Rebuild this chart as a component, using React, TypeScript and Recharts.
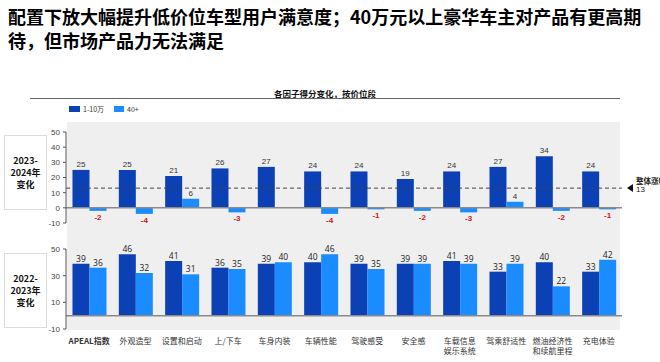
import { BarChart, Bar, XAxis, YAxis, ReferenceLine, LabelList } from 'recharts';

const categories = [
  'APEAL指数',
  '外观造型',
  '设置和启动',
  '上/下车',
  '车身内装',
  '车辆性能',
  '驾驶感受',
  '安全感',
  '车载信息\n娱乐系统',
  '驾乘舒适性',
  '燃油经济性\n和续航里程',
  '充电体验',
];

// 2023-2024 change
const change2324Low = [25, 25, 21, 26, 27, 24, 24, 19, 24, 27, 34, 24];
const change2324High = [-2, -4, 6, -3, 0, -4, -1, -2, -3, 4, -2, -1];
const overallRise = 13;

// 2022-2023 change
const change2223Low = [39, 46, 41, 36, 39, 40, 39, 39, 41, 33, 40, 33];
const change2223High = [36, 32, 31, 35, 40, 46, 35, 39, 39, 39, 22, 42];

const yTicks = [-10, 0, 10, 20, 30, 40, 50];

const DARK = '#0B41B5';
const LIGHT = '#1A8CFF';
const CHART_FONT = '"Liberation Sans", Arial, sans-serif';
const CJK_FONT = '"Noto Sans CJK SC", "Noto Sans", sans-serif';

const topData = categories.map((name, i) => ({
  name,
  low: change2324Low[i],
  high: change2324High[i],
}));

const bottomData = categories.map((name, i) => ({
  name,
  low: change2223Low[i],
  high: change2223High[i],
}));

function TopLabel(props: any) {
  const { x, y, width, height, value } = props;
  const cx = x + width / 2;
  const top = Math.min(y, y + height);
  const bottom = Math.max(y, y + height);
  if (value <= 0) {
    return (
      <text
        x={cx}
        y={bottom + 9}
        textAnchor="middle"
        fontSize={8}
        fontWeight={700}
        fill="#D0161B"
        fontFamily={CHART_FONT}
      >
        {value}
      </text>
    );
  }
  return (
    <text x={cx} y={top - 3} textAnchor="middle" fontSize={8} fill="#333" fontFamily={CHART_FONT}>
      {value}
    </text>
  );
}

function BottomLabel(props: any) {
  const { x, y, width, height, value } = props;
  const top = Math.min(y, y + height);
  return (
    <text
      x={x + width / 2}
      y={top - 2}
      textAnchor="middle"
      fontSize={8.5}
      fill="#222"
      fontFamily='"Open Sans", sans-serif'
    >
      {value}
    </text>
  );
}

function CategoryTick(props: any) {
  const { x, y, payload, index } = props;
  const lines = String(payload.value).split('\n');
  return (
    <text
      x={x}
      y={y}
      textAnchor="middle"
      fontSize={8}
      fill="#333"
      fontWeight={index === 0 ? 700 : 400}
      fontFamily={CJK_FONT}
    >
      {lines.map((line, i) => (
        <tspan key={i} x={x} dy={i === 0 ? 7 : 10}>
          {line}
        </tspan>
      ))}
    </text>
  );
}

function RiseMarker(props: any) {
  const { viewBox } = props;
  const ty = viewBox.y;
  const tx = viewBox.x + viewBox.width + 5;
  return (
    <g>
      <polygon points={`${tx},${ty} ${tx + 6},${ty - 4} ${tx + 6},${ty + 4}`} fill="#111" />
      <text x={tx + 9} y={ty - 4} fontSize={7.5} fontWeight={700} fill="#222" fontFamily={CJK_FONT}>
        整体涨幅
      </text>
      <text x={tx + 9} y={ty + 4} fontSize={8} fill="#222" fontFamily={CHART_FONT}>
        {overallRise}
      </text>
    </g>
  );
}

const yAxisProps = {
  type: 'number' as const,
  domain: [-10, 50],
  ticks: yTicks,
  width: 50,
  tickSize: 3,
  tickMargin: 3,
  axisLine: { stroke: '#555' },
  tickLine: { stroke: '#555' },
  tick: { fontSize: 8, fill: '#444', fontFamily: CHART_FONT },
};

function SideBox({ top, lines }: { top: number; lines: string[] }) {
  return (
    <div
      style={{
        position: 'absolute',
        left: 4,
        top,
        width: 43,
        height: 75,
        boxSizing: 'border-box',
        border: '1px solid #dcdcdc',
        background: '#fff',
        display: 'flex',
        flexDirection: 'column',
        alignItems: 'center',
        justifyContent: 'center',
        fontFamily: CJK_FONT,
        fontWeight: 700,
        fontSize: 9,
        lineHeight: '12px',
        color: '#111',
      }}
    >
      {lines.map((l) => (
        <div key={l}>{l}</div>
      ))}
    </div>
  );
}

export default function App() {
  return (
    <div
      style={{
        position: 'fixed',
        left: 0,
        top: 0,
        width: 660,
        height: 362,
        background: '#fff',
        overflow: 'hidden',
      }}
    >
      <div
        style={{
          position: 'absolute',
          left: 8,
          top: 4,
          width: 650,
          fontFamily: CJK_FONT,
          fontWeight: 700,
          fontSize: 18,
          lineHeight: '24px',
          color: '#000',
        }}
      >
        配置下放大幅提升低价位车型用户满意度；40万元以上豪华车主对产品有更高期
        <br />
        待，但市场产品力无法满足
      </div>

      <div
        style={{
          position: 'absolute',
          left: 0,
          width: 660,
          top: 87,
          textAlign: 'center',
          fontFamily: CJK_FONT,
          fontWeight: 700,
          fontSize: 8.5,
          color: '#111',
        }}
      >
        <span style={{ position: 'relative', left: -5 }}>各因子得分变化，按价位段</span>
      </div>
      <div
        style={{ position: 'absolute', left: 30, top: 98, width: 590, height: 1, background: '#666' }}
      />

      {/* legend */}
      <div
        style={{
          position: 'absolute',
          left: 69,
          top: 104,
          display: 'flex',
          alignItems: 'center',
          fontFamily: CJK_FONT,
          fontSize: 7,
          color: '#333',
        }}
      >
        <div style={{ width: 11, height: 6, background: DARK, marginRight: 3 }} />
        <span style={{ marginRight: 10 }}>1-10万</span>
        <div style={{ width: 10, height: 6, background: LIGHT, marginRight: 3 }} />
        <span>40+</span>
      </div>

      {/* grey panel */}
      <div
        style={{ position: 'absolute', left: 67, top: 122, width: 553, height: 208, background: '#efefef' }}
      />

      <SideBox top={135} lines={['2023-', '2024年', '变化']} />
      <SideBox top={253} lines={['2022-', '2023年', '变化']} />

      <div style={{ position: 'absolute', left: 0, top: 122 }}>
        <BarChart
          width={660}
          height={110}
          data={topData}
          margin={{ top: 10, right: 38, bottom: 9, left: 16 }}
          barCategoryGap="14%"
          barGap={0}
        >
          <XAxis dataKey="name" hide />
          <YAxis {...yAxisProps} />
          <ReferenceLine y={0} stroke="#8a8a8a" strokeWidth={1.5} />
          <ReferenceLine
            y={overallRise}
            stroke="#444"
            strokeDasharray="4 3"
            strokeWidth={1}
            label={<RiseMarker />}
          />
          <Bar dataKey="low" fill={DARK} isAnimationActive={false}>
            <LabelList dataKey="low" content={<TopLabel />} />
          </Bar>
          <Bar dataKey="high" fill={LIGHT} isAnimationActive={false}>
            <LabelList dataKey="high" content={<TopLabel />} />
          </Bar>
        </BarChart>
      </div>

      <div style={{ position: 'absolute', left: 0, top: 239 }}>
        <BarChart
          width={660}
          height={120}
          data={bottomData}
          margin={{ top: 10, right: 38, bottom: 0, left: 16 }}
          barCategoryGap="14%"
          barGap={0}
        >
          <XAxis
            dataKey="name"
            height={30}
            axisLine={false}
            tickLine={false}
            interval={0}
            tick={<CategoryTick />}
          />
          <YAxis {...yAxisProps} />
          <ReferenceLine y={0} stroke="#8a8a8a" strokeWidth={1.5} />
          <Bar dataKey="low" fill={DARK} isAnimationActive={false}>
            <LabelList dataKey="low" content={<BottomLabel />} />
          </Bar>
          <Bar dataKey="high" fill={LIGHT} isAnimationActive={false}>
            <LabelList dataKey="high" content={<BottomLabel />} />
          </Bar>
        </BarChart>
      </div>
    </div>
  );
}
